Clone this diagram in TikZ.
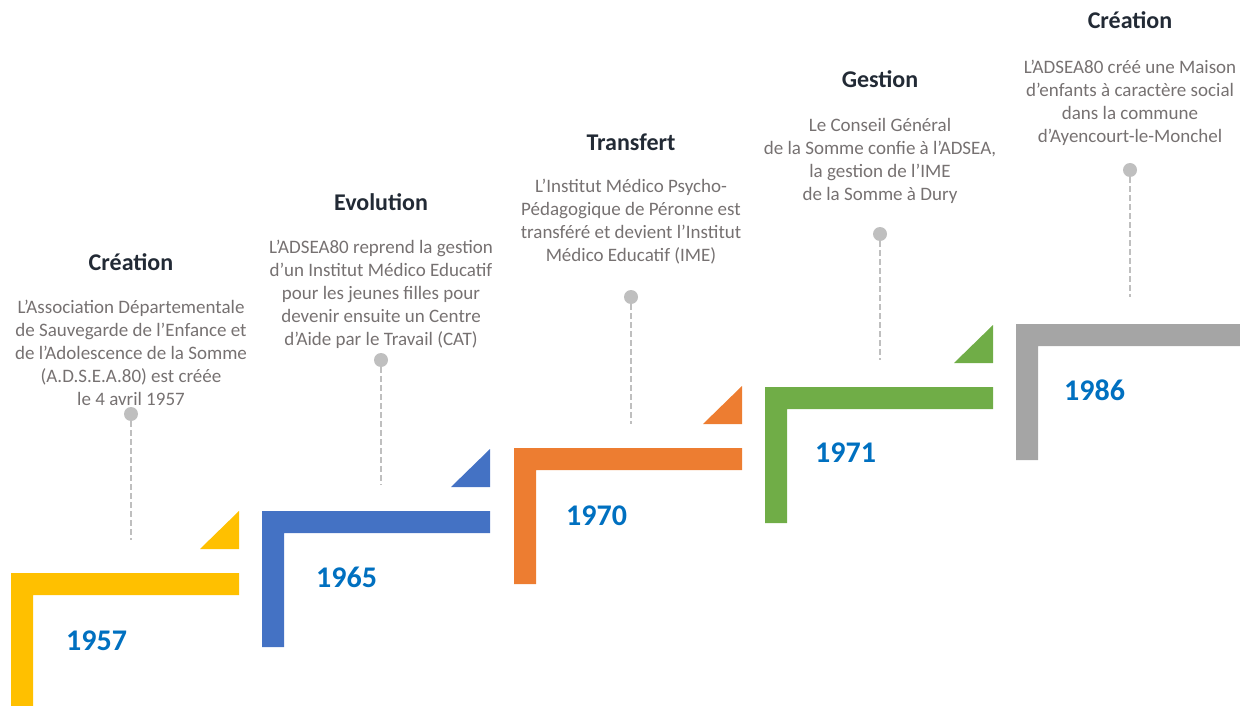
\documentclass[tikz,border=0pt]{standalone}
\usepackage{fontspec}
\setmainfont{Carlito}
\definecolor{cyellow}{HTML}{FFC000}
\definecolor{cblue}{HTML}{4472C4}
\definecolor{corange}{HTML}{ED7D31}
\definecolor{cgreen}{HTML}{70AD47}
\definecolor{cgray}{HTML}{A5A5A5}
\definecolor{yeartxt}{HTML}{0070C0}
\definecolor{titletxt}{HTML}{222A35}
\definecolor{bodytxt}{HTML}{767171}
\definecolor{dotc}{HTML}{BFBFBF}
\tikzset{
  titlelbl/.style={anchor=base, inner sep=0pt, text=titletxt, font=\fontsize{24}{29}\selectfont\bfseries},
  bodylbl/.style={anchor=north, inner sep=0pt, align=center, text=bodytxt, font=\fontsize{19}{23}\selectfont},
  yearlbl/.style={anchor=base west, inner sep=0pt, text=yeartxt, font=\fontsize{30}{36}\selectfont\bfseries},
  dotnode/.style={circle, fill=dotc, inner sep=0pt, minimum size=14pt},
  dashline/.style={draw=dotc, line width=2pt, dash pattern=on 6pt off 3pt},
}
\newcommand{\stagebar}[3]{% L, T, colour
  \fill[#3] (#1,#2) -- ({#1+228},#2) -- ({#1+228},{#2+22}) -- ({#1+22},{#2+22}) -- ({#1+22},{#2+136}) -- (#1,{#2+136}) -- cycle;
}
\newcommand{\stagetri}[3]{% L, T, colour
  \fill[#3] ({#1+189},{#2-24}) -- ({#1+228},{#2-24}) -- ({#1+228},{#2-62}) -- cycle;
}
\newcommand{\bs}{\rule{0pt}{15pt}}
\begin{document}
\begin{tikzpicture}[x=1pt,y=-1pt]
\useasboundingbox (0,0) rectangle (1240,706);
\begin{scope}
\clip (0,0) rectangle (1240,706);
\stagebar{11}{573}{cyellow}\stagetri{11}{573}{cyellow}
\stagebar{262}{511}{cblue}\stagetri{262}{511}{cblue}
\stagebar{514}{448}{corange}\stagetri{514}{448}{corange}
\stagebar{765}{387}{cgreen}\stagetri{765}{387}{cgreen}
\stagebar{1016}{324}{cgray}
\end{scope}

% Stage 1
\node[titlelbl] (t1) at (131,270) {Création};
\node[bodylbl] (b1) at (131,298) {\bs L’Association Départementale\\de Sauvegarde de l’Enfance et\\de l’Adolescence de la Somme\\(A.D.S.E.A.80) est créée\\le 4 avril 1957};
\node[dotnode] (d1) at (131,414) {};
\coordinate (e1) at (131,540);
\draw[dashline] (d1.south) -- (e1);
\node[yearlbl] (y1) at (66,650) {1957};

% Stage 2
\node[titlelbl] (t2) at (381,210) {Evolution};
\node[bodylbl] (b2) at (381,238) {\bs L’ADSEA80 reprend la gestion\\d’un Institut Médico Educatif\\pour les jeunes filles pour\\devenir ensuite un Centre\\d’Aide par le Travail (CAT)};
\node[dotnode] (d2) at (381,360) {};
\coordinate (e2) at (381,485);
\draw[dashline] (d2.south) -- (e2);
\node[yearlbl] (y2) at (316,587) {1965};

% Stage 3
\node[titlelbl] (t3) at (631,150) {Transfert};
\node[bodylbl] (b3) at (631,177) {\bs L’Institut Médico Psycho-\\Pédagogique de Péronne est\\transféré et devient l’Institut\\Médico Educatif (IME)};
\node[dotnode] (d3) at (631,297) {};
\coordinate (e3) at (631,424);
\draw[dashline] (d3.south) -- (e3);
\node[yearlbl] (y3) at (566,525) {1970};

% Stage 4
\node[titlelbl] (t4) at (880,88) {Gestion};
\node[bodylbl] (b4) at (880,116) {\bs Le Conseil Général\\de la Somme confie à l’ADSEA,\\la gestion de l’IME\\de la Somme à Dury};
\node[dotnode] (d4) at (880,234) {};
\coordinate (e4) at (880,360);
\draw[dashline] (d4.south) -- (e4);
\node[yearlbl] (y4) at (815,462) {1971};

% Stage 5
\node[titlelbl] (t5) at (1130,29) {Création};
\node[bodylbl] (b5) at (1130,58) {\bs L’ADSEA80 créé une Maison\\d’enfants à caractère social\\dans la commune\\d’Ayencourt-le-Monchel};
\node[dotnode] (d5) at (1130,170) {};
\coordinate (e5) at (1130,297);
\draw[dashline] (d5.south) -- (e5);
\node[yearlbl] (y5) at (1064,400) {1986};
\end{tikzpicture}
\end{document}
